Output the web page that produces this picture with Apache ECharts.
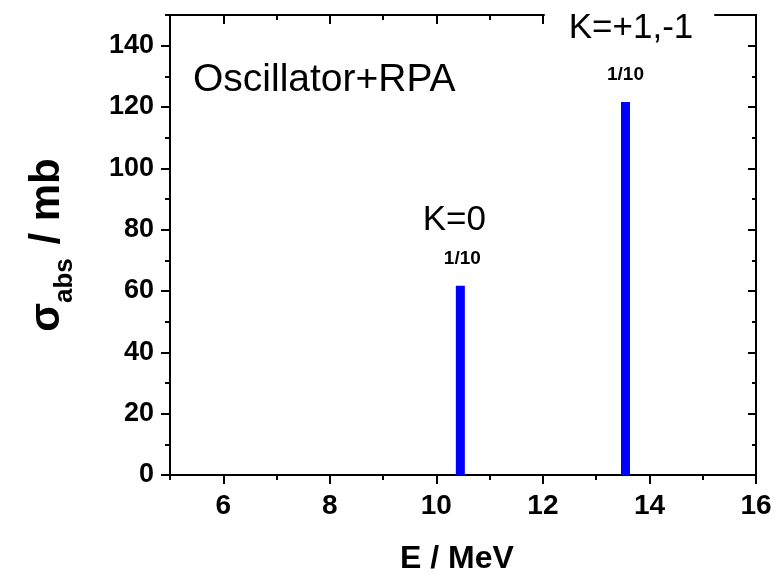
<!DOCTYPE html>
<html>
<head>
<meta charset="utf-8">
<script src="https://cdn.jsdelivr.net/npm/echarts@6/dist/echarts.min.js"></script>
<style>html,body{margin:0;padding:0;background:#fff}#c{width:780px;height:578px}</style>
</head>
<body>
<div id="c"></div>
<script>
// ---- data ----
const energies = [10.45, 13.55];          // E / MeV
const sigma = [61.7, 121.6];              // sigma_abs / mb (scaled 1/10)
const kLabels = ['K=0', 'K=+1,-1'];
const scaleLabels = ['1/10', '1/10'];
const xMajorTicks = [6, 8, 10, 12, 14, 16];
const xMinorTicks = [5, 7, 9, 11, 13, 15];
const yMajorTicks = [0, 20, 40, 60, 80, 100, 120, 140];
const yMinorTicks = [10, 30, 50, 70, 90, 110, 130, 150];
const xRange = [5, 16];
const yRange = [0, 150];
const titleText = 'Oscillator+RPA';

const FONT = '"Liberation Sans", Arial, Helvetica, sans-serif';
const lineStyle = { color: '#000', width: 2 };

function xAxisDef(pos, ticks, len, inside, labels) {
  return {
    type: 'value', position: pos, min: xRange[0], max: xRange[1],
    axisLine: { show: true, onZero: false, lineStyle },
    axisTick: { show: true, inside, length: len, lineStyle, customValues: ticks },
    axisLabel: labels ? { show: true, customValues: ticks, fontFamily: FONT, fontWeight: 'bold', fontSize: 28, color: '#000', margin: 17 } : { show: false },
    splitLine: { show: false }
  };
}
function yAxisDef(pos, ticks, len, inside, labels) {
  return {
    type: 'value', position: pos, min: yRange[0], max: yRange[1],
    axisLine: { show: true, onZero: false, lineStyle },
    axisTick: { show: true, inside, length: len, lineStyle, customValues: ticks },
    axisLabel: labels ? { show: true, customValues: ticks, fontFamily: FONT, fontWeight: 'bold', fontSize: 27, color: '#000', margin: 16 } : { show: false },
    splitLine: { show: false }
  };
}

const xAxes = [
  xAxisDef('bottom', xMajorTicks, 9, false, true),
  xAxisDef('bottom', xMinorTicks, 5, false, false),
  xAxisDef('top', xMajorTicks, 9, true, false),
  xAxisDef('top', xMinorTicks, 5, true, false)
];
xAxes[0].name = 'E / MeV';
xAxes[0].nameLocation = 'middle';
xAxes[0].nameGap = 68;
xAxes[0].nameTextStyle = { fontFamily: FONT, fontWeight: 'bold', fontSize: 32, color: '#000', padding: [0, 12, 0, 0] };

const yAxes = [
  yAxisDef('left', yMajorTicks, 9, false, true),
  yAxisDef('left', yMinorTicks, 5, false, false),
  yAxisDef('right', yMajorTicks, 8, true, false),
  yAxisDef('right', yMinorTicks, 4, true, false)
];
yAxes[0].name = '{s|σ}{sub|abs}{s| / mb}';
yAxes[0].nameLocation = 'middle';
yAxes[0].nameGap = 100;
yAxes[0].nameTextStyle = {
  fontFamily: FONT, fontWeight: 'bold', color: '#000',
  rich: {
    s: { fontFamily: FONT, fontWeight: 'bold', fontSize: 42, lineHeight: 44, verticalAlign: 'top', color: '#000' },
    sub: { fontFamily: FONT, fontWeight: 'bold', fontSize: 26, lineHeight: 26, verticalAlign: 'top', padding: [26, 2, 0, 0], color: '#000' }
  }
};

const labelCfg = [
  { distance: 27, kPad: [0, 12, 0, 0], fPad: [19, 0, 0, 4], bg: null, offset: [0, 0] },
  { distance: 36, kPad: [4, 21, 4, 24], fPad: [37, 8, 0, 0], bg: '#fff', offset: [4, 0] }
];

const barData = energies.map((e, i) => {
  const c = labelCfg[i];
  return {
    value: [e, sigma[i]],
    label: {
      show: true, position: 'top', distance: c.distance, offset: c.offset,
      formatter: '{k|' + kLabels[i] + '}\n{f|' + scaleLabels[i] + '}',
      rich: {
        k: { fontFamily: FONT, fontSize: 35, lineHeight: 36, color: '#000', padding: c.kPad, backgroundColor: c.bg || 'transparent' },
        f: { fontFamily: FONT, fontSize: 19, fontWeight: 'bold', lineHeight: 20, color: '#000', padding: c.fPad }
      }
    }
  };
});

const chart = echarts.init(document.getElementById('c'), null, { renderer: 'canvas' });
chart.setOption({
  animation: false,
  backgroundColor: '#fff',
  title: {
    text: titleText, left: 188, top: 56,
    textStyle: { fontFamily: FONT, fontSize: 39, fontWeight: 'normal', color: '#000' }
  },
  grid: { left: 170, right: 24, top: 15, bottom: 103, containLabel: false, outerBoundsMode: 'none' },
  xAxis: xAxes,
  yAxis: yAxes,
  series: [{
    type: 'bar', xAxisIndex: 0, yAxisIndex: 0,
    barWidth: 9, z: 5,
    itemStyle: { color: '#0000ff' },
    data: barData
  }]
});
</script>
</body>
</html>
